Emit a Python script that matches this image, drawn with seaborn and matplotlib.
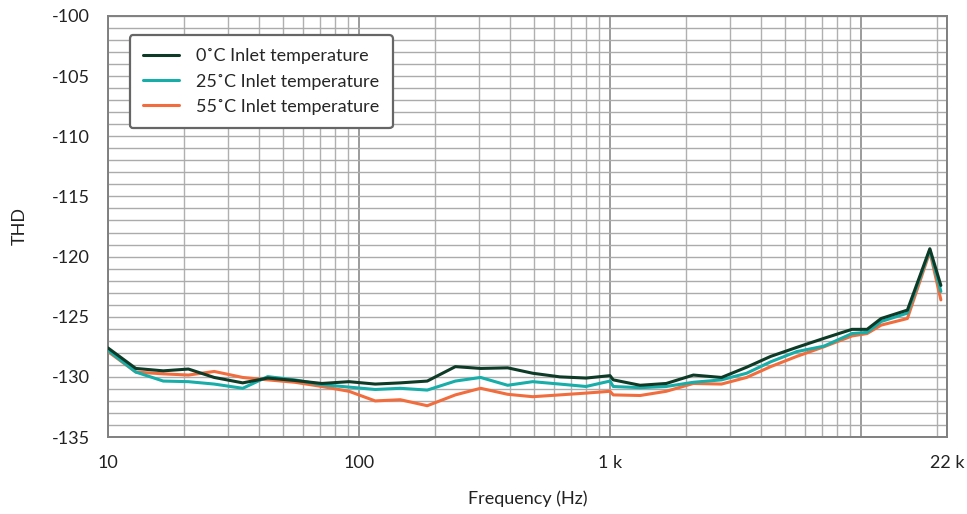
import numpy as np
import pandas as pd
import matplotlib
matplotlib.use("Agg")
import matplotlib.pyplot as plt
import matplotlib.ticker as mticker
import seaborn as sns

# frequency points (Hz)
freq = [10, 12.9, 16.6, 20.9, 26.5, 34.4, 43.3, 55.5, 71.1, 91.2,
        116, 146, 187, 242, 305, 391, 492, 631, 802, 1000,
        1030, 1318, 1675, 2148, 2780, 3499, 4365, 5546, 7112, 9204,
        10570, 12023, 15300, 18800, 20800]

thd_0c = [-127.6, -129.3, -129.5, -129.35, -130.05, -130.5, -130.1, -130.3, -130.55, -130.4,
          -130.6, -130.5, -130.35, -129.15, -129.3, -129.25, -129.7, -130.0, -130.1, -129.9,
          -130.25, -130.7, -130.55, -129.85, -130.05, -129.2, -128.3, -127.55, -126.8, -126.05,
          -126.05, -125.15, -124.45, -119.35, -122.4]

thd_25c = [-127.8, -129.6, -130.35, -130.4, -130.6, -130.95, -129.98, -130.25, -130.65, -130.85,
           -131.05, -130.95, -131.1, -130.35, -130.05, -130.7, -130.4, -130.6, -130.8, -130.35,
           -130.8, -130.9, -130.8, -130.45, -130.25, -129.7, -128.75, -127.9, -127.45, -126.4,
           -126.3, -125.4, -124.7, -119.45, -122.9]

thd_55c = [-127.9, -129.6, -129.75, -129.85, -129.55, -130.05, -130.25, -130.45, -130.8, -131.2,
           -132.0, -131.9, -132.4, -131.5, -130.95, -131.45, -131.65, -131.5, -131.35, -131.2,
           -131.5, -131.55, -131.2, -130.55, -130.6, -130.05, -129.15, -128.3, -127.5, -126.6,
           -126.4, -125.7, -125.15, -119.6, -123.6]

labels = ["0\u02daC Inlet temperature", "25\u02daC Inlet temperature", "55\u02daC Inlet temperature"]
colors = ["#0d3b27", "#17ada8", "#f26d3d"]

xtick_vals = [10, 100, 1000, 10000, 22000]
xtick_labels = ["10", "100", "1 k", "", "22 k"]

sns.set_style("white")
plt.rcParams['font.family'] = ['Lato', 'DejaVu Sans']
plt.rcParams['axes.unicode_minus'] = False

fig = plt.figure(figsize=(9.67, 5.14), dpi=100)
ax = fig.add_axes([0.1117, 0.1498, 0.8676, 0.8191])

series = [thd_0c, thd_25c, thd_55c]
zorders = [5, 4, 3]
for vals, lab, col, z in zip(series, labels, colors, zorders):
    df = pd.DataFrame({"freq": freq, "thd": vals})
    sns.lineplot(data=df, x="freq", y="thd", color=col, lw=2.2, label=lab,
                 ax=ax, zorder=z)

ax.set_xscale("log")
ax.set_xlim(10, 22000)
ax.set_ylim(-135, -100)

ax.set_xticks(xtick_vals)
ax.set_xticklabels(xtick_labels)
ax.xaxis.set_minor_locator(mticker.LogLocator(base=10, subs=np.arange(2, 10)))
ax.xaxis.set_minor_formatter(mticker.NullFormatter())
ax.set_yticks(np.arange(-135, -99, 5))
ax.yaxis.set_minor_locator(mticker.MultipleLocator(1))

ax.grid(which="major", axis="x", color="#8a8a8a", lw=1.2)
ax.grid(which="minor", axis="x", color="#b0b0b0", lw=1.0)
ax.grid(which="both", axis="y", color="#ababab", lw=1.0)
ax.set_axisbelow(True)

ax.tick_params(axis="both", which="major", direction="out", length=6, width=1.2,
               color="#707070", labelsize=13, labelcolor="#222222", pad=7)
ax.tick_params(axis="x", which="minor", length=0)
ax.tick_params(axis="y", which="minor", length=0)

for s in ax.spines.values():
    s.set_color("#808080")
    s.set_linewidth(1.4)

ax.set_xlabel("Frequency (Hz)", fontsize=13, color="#222222", labelpad=14)
ax.set_ylabel("THD", fontsize=13, color="#222222", labelpad=17)

leg = ax.legend(loc="upper left", bbox_to_anchor=(0.026, 0.955), fontsize=13,
                frameon=True, fancybox=True, handlelength=2.0, handletextpad=0.9,
                borderpad=0.75, labelspacing=0.5, borderaxespad=0)
leg.get_frame().set_edgecolor("#666666")
leg.get_frame().set_linewidth(1.6)
leg.get_frame().set_alpha(1)

fig.savefig("out.png", dpi=100)
